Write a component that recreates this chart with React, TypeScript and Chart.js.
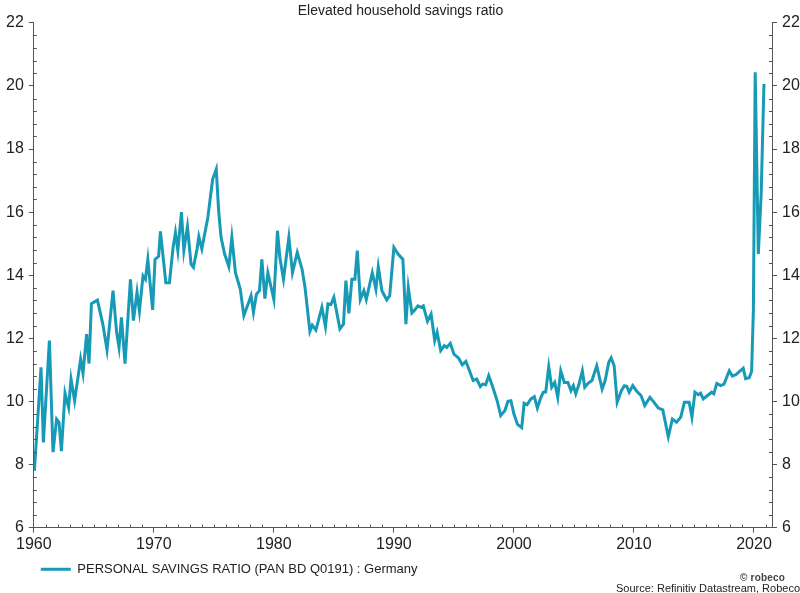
import { useEffect, useRef } from "react";
import { Chart, registerables } from "chart.js";

Chart.register(...registerables);

const chartTitle = "Elevated household savings ratio";
const seriesLabel = "PERSONAL SAVINGS RATIO (PAN BD Q0191) : Germany";
const sourceText = "Source: Refinitiv Datastream, Robeco";
const watermark = "© robeco";

// decimal-year positions of the readings
const years = [
  1960.05, 1960.6, 1960.8, 1961.3, 1961.6, 1961.9, 1962.1, 1962.3, 1962.6, 1962.9,
  1963.1, 1963.4, 1963.9, 1964.1, 1964.4, 1964.6, 1964.8, 1965.3, 1965.75, 1966.1,
  1966.6, 1966.9, 1967.1, 1967.3, 1967.6, 1968.05, 1968.3, 1968.6, 1968.8, 1969.1,
  1969.3, 1969.5, 1969.9, 1970.1, 1970.4, 1970.55, 1971.0, 1971.3, 1971.6, 1971.8,
  1972.0, 1972.3, 1972.5, 1972.8, 1973.1, 1973.3, 1973.6, 1973.75, 1974.0, 1974.5,
  1974.9, 1975.2, 1975.4, 1975.6, 1975.9, 1976.25, 1976.5, 1976.8, 1977.2, 1977.5,
  1977.8, 1978.1, 1978.3, 1978.55, 1978.8, 1979.0, 1979.25, 1979.5, 1980.0, 1980.3,
  1980.5, 1980.8, 1981.25, 1981.55, 1981.95, 1982.35, 1982.6, 1983.0, 1983.2, 1983.5,
  1984.0, 1984.3, 1984.5, 1984.75, 1985.0, 1985.5, 1985.8, 1986.0, 1986.25, 1986.5,
  1986.75, 1986.95, 1987.2, 1987.5, 1987.7, 1988.2, 1988.5, 1988.7, 1989.0, 1989.4,
  1989.65, 1990.0, 1990.35, 1990.75, 1991.0, 1991.2, 1991.5, 1991.7, 1992.0, 1992.25,
  1992.45, 1992.8, 1993.1, 1993.4, 1993.6, 1993.9, 1994.2, 1994.4, 1994.7, 1995.0,
  1995.4, 1995.7, 1996.0, 1996.25, 1996.6, 1996.9, 1997.2, 1997.4, 1997.65, 1997.9,
  1998.2, 1998.6, 1998.9, 1999.25, 1999.5, 1999.75, 2000.0, 2000.3, 2000.65, 2000.85,
  2001.1, 2001.4, 2001.7, 2001.95, 2002.25, 2002.45, 2002.65, 2002.9, 2003.15, 2003.4,
  2003.65, 2003.9, 2004.2, 2004.5, 2004.75, 2004.95, 2005.15, 2005.4, 2005.7, 2005.9,
  2006.2, 2006.5, 2006.9, 2007.35, 2007.6, 2007.9, 2008.1, 2008.35, 2008.6, 2008.95,
  2009.2, 2009.4, 2009.6, 2009.9, 2010.2, 2010.6, 2010.9, 2011.33, 2011.67, 2012.03,
  2012.4, 2012.86, 2013.2, 2013.55, 2013.9, 2014.2, 2014.6, 2014.83, 2015.08, 2015.36,
  2015.55, 2015.77, 2016.1, 2016.47, 2016.65, 2016.9, 2017.22, 2017.5, 2017.94, 2018.2,
  2018.5, 2018.8, 2019.1, 2019.3, 2019.6, 2019.8, 2019.95, 2020.1, 2020.36, 2020.6,
  2020.83,
];

// personal savings ratio, %
const savings = [
  7.8, 11.08, 8.7, 11.93, 8.39, 9.44, 9.34, 8.42, 10.26, 9.81,
  10.71, 10.02, 11.34, 10.89, 12.13, 11.2, 13.1, 13.21, 12.45, 11.63,
  13.51, 12.19, 11.71, 12.66, 11.2, 13.87, 12.56, 13.46, 12.86, 13.98,
  13.87, 14.5, 12.9, 14.5, 14.6, 15.39, 13.76, 13.76, 14.87, 15.35,
  14.78, 16.0, 14.78, 15.54, 14.35, 14.25, 14.83, 15.22, 14.83, 15.83,
  17.04, 17.36, 16.04, 15.2, 14.67, 14.27, 15.2, 14.08, 13.56, 12.72,
  13.03, 13.35, 12.82, 13.4, 13.51, 14.5, 13.26, 14.08, 13.23, 15.41,
  14.56, 13.87, 15.2, 14.08, 14.72, 14.19, 13.6, 12.22, 12.42, 12.26,
  12.98, 12.37, 13.09, 13.07, 13.3, 12.3, 12.45, 13.83, 12.79, 13.87,
  13.87, 14.78, 13.23, 13.51, 13.23, 14.08, 13.56, 14.27, 13.51, 13.22,
  13.35, 14.88, 14.67, 14.5, 12.45, 13.61, 12.8, 12.88, 13.03, 12.98,
  13.03, 12.54, 12.77, 11.93, 12.19, 11.61, 11.77, 11.71, 11.84, 11.5,
  11.37, 11.16, 11.27, 11.02, 10.66, 10.71, 10.47, 10.55, 10.53, 10.82,
  10.5, 10.02, 9.55, 9.71, 10.0, 10.02, 9.6, 9.27, 9.17, 9.94,
  9.9, 10.07, 10.15, 9.79, 10.13, 10.29, 10.3, 11.1, 10.45, 10.6,
  10.13, 10.97, 10.6, 10.6, 10.34, 10.5, 10.24, 10.52, 10.97, 10.45,
  10.58, 10.66, 11.13, 10.39, 10.66, 11.24, 11.38, 11.13, 9.97, 10.34,
  10.5, 10.48, 10.29, 10.5, 10.34, 10.18, 9.87, 10.13, 9.97, 9.79,
  9.73, 8.88, 9.44, 9.34, 9.5, 9.97, 9.97, 9.5, 10.29, 10.21,
  10.26, 10.08, 10.18, 10.29, 10.24, 10.57, 10.5, 10.55, 10.97, 10.8,
  10.85, 10.95, 11.05, 10.72, 10.75, 10.95, 12.9, 20.43, 14.67, 16.6,
  20.06,
];

const xTicks = [1960, 1970, 1980, 1990, 2000, 2010, 2020];
const yTicks = [6, 8, 10, 12, 14, 16, 18, 20, 22];
const xMin = 1960;
const xMax = 2021.5;
const yMin = 6;
const yMax = 22;
const xMinorStep = 1;
const yMinorStep = 0.4;

const lineColor = "#179ab6";
const axisColor = "#555555";
const textColor = "#222222";
const fontFamily = "'Liberation Sans', Arial, sans-serif";

const minorTicksPlugin = {
  id: "minorTicks",
  afterDraw(chart: any) {
    const { ctx, chartArea, scales } = chart;
    const xs = scales.x;
    const ys = scales.y;
    ctx.save();
    ctx.strokeStyle = axisColor;
    ctx.lineWidth = 1;
    ctx.beginPath();
    for (let v = xMin; v <= xMax + 1e-6; v += xMinorStep) {
      if (xTicks.some((t) => Math.abs(t - v) < 1e-6)) continue;
      const px = Math.round(xs.getPixelForValue(v)) + 0.5;
      ctx.moveTo(px, chartArea.bottom);
      ctx.lineTo(px, chartArea.bottom - 3);
    }
    const n = Math.round((yMax - yMin) / yMinorStep);
    for (let k = 0; k <= n; k++) {
      const v = yMin + k * yMinorStep;
      if (yTicks.some((t) => Math.abs(t - v) < 1e-6)) continue;
      const py = Math.round(ys.getPixelForValue(v)) + 0.5;
      ctx.moveTo(chartArea.left, py);
      ctx.lineTo(chartArea.left + 3, py);
      ctx.moveTo(chartArea.right, py);
      ctx.lineTo(chartArea.right - 3, py);
    }
    ctx.stroke();
    ctx.restore();
  },
};

export default function App() {
  const canvasRef = useRef<HTMLCanvasElement | null>(null);

  useEffect(() => {
    document.body.style.margin = "0";
    const canvas = canvasRef.current;
    if (!canvas) return;

    const tickFont = { family: fontFamily, size: 16 };
    const yAxisCommon = {
      type: "linear" as const,
      min: yMin,
      max: yMax,
      afterBuildTicks: (scale: any) => {
        scale.ticks = yTicks.map((v) => ({ value: v }));
      },
      ticks: {
        font: tickFont,
        color: textColor,
        padding: 5,
        callback: (v: any) => String(v),
      },
      grid: {
        display: true,
        drawOnChartArea: false,
        drawTicks: true,
        tickLength: 5,
        color: axisColor,
      },
      border: { display: true, color: axisColor, width: 1 },
    };

    const chart = new Chart(canvas, {
      type: "line",
      data: {
        datasets: [
          {
            label: seriesLabel,
            data: years.map((x, i) => ({ x, y: savings[i] })),
            borderColor: lineColor,
            backgroundColor: lineColor,
            borderWidth: 3,
            pointRadius: 0,
            tension: 0,
            fill: false,
            yAxisID: "y",
          },
        ],
      },
      options: {
        responsive: false,
        animation: false,
        layout: { padding: { left: 1, right: 0, top: 0, bottom: 0 } },
        scales: {
          x: {
            type: "linear",
            min: xMin,
            max: xMax,
            afterBuildTicks: (scale: any) => {
              scale.ticks = xTicks.map((v) => ({ value: v }));
            },
            ticks: {
              font: tickFont,
              color: textColor,
              padding: 2,
              maxRotation: 0,
              callback: (v: any) => String(v),
            },
            grid: {
              display: true,
              drawOnChartArea: false,
              drawTicks: true,
              tickLength: 5,
              color: axisColor,
            },
            border: { display: true, color: axisColor, width: 1 },
          },
          y: { ...yAxisCommon, position: "left" },
          y2: {
            ...yAxisCommon,
            position: "right",
            afterFit: (scale: any) => {
              scale.width = 28;
            },
          },
        },
        plugins: {
          title: {
            display: true,
            text: chartTitle,
            color: textColor,
            font: { family: fontFamily, size: 14, weight: "normal" },
            padding: { top: 3, bottom: 3 },
          },
          subtitle: {
            display: true,
            text: sourceText,
            position: "bottom",
            align: "end",
            color: textColor,
            font: { family: fontFamily, size: 11, weight: "normal" },
            padding: { top: -3, bottom: -3 },
          },
          legend: {
            display: true,
            position: "bottom",
            align: "start",
            fullSize: false,
            labels: {
              usePointStyle: true,
              pointStyle: "line",
              pointStyleWidth: 30,
              color: textColor,
              font: { family: fontFamily, size: 13 },
              padding: 7,
            },
          },
          tooltip: { enabled: false },
        },
      },
      plugins: [minorTicksPlugin],
    });

    return () => {
      chart.destroy();
    };
  }, []);

  return (
    <div style={{ position: "relative", width: 800, height: 593, background: "#fff" }}>
      <canvas ref={canvasRef} width={800} height={593} />
      <span
        style={{
          position: "absolute",
          left: 740,
          top: 572,
          fontFamily: "'Liberation Sans', Arial, sans-serif",
          fontSize: 10,
          fontWeight: "bold",
          color: "#444",
          letterSpacing: 0.2,
          pointerEvents: "none",
        }}
      >
        {watermark}
      </span>
    </div>
  );
}
